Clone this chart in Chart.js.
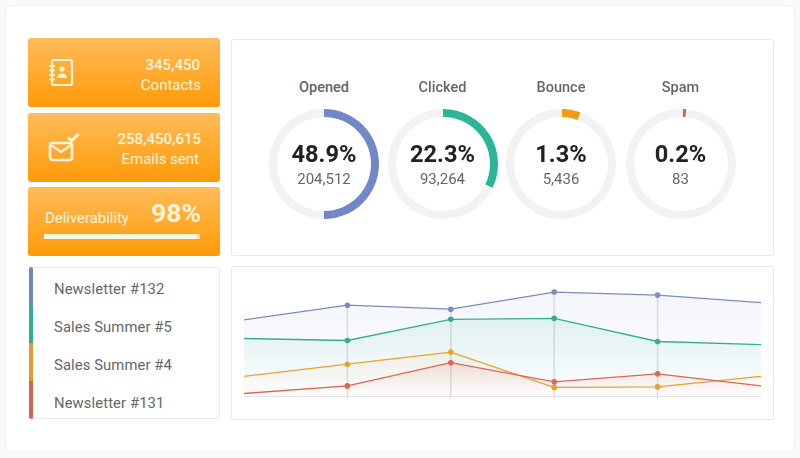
<!DOCTYPE html>
<html>
<head>
<meta charset="utf-8">
<title>Campaign dashboard</title>
<script src="https://cdn.jsdelivr.net/npm/chart.js@4/dist/chart.umd.min.js"></script>
<style>
html,body{margin:0;padding:0;background:#fafafa;overflow:hidden}
body{width:800px;height:458px;position:relative;font-family:Roboto,sans-serif}
.abs,canvas{position:absolute}
.page{left:5px;top:5px;width:788px;height:445px;background:#fff;border:1px solid #f3f3f3;border-radius:6px}
.stat{left:28px;width:192px;height:69px;border-radius:3px;background:linear-gradient(#ffbc58,#ff9a08)}
.panel{background:#fff;border:1px solid #e9e9e9;border-radius:3px;box-sizing:border-box}
.t{position:absolute;white-space:nowrap;line-height:20px;height:20px}
.light{color:#fff3dc}
.title{font-size:14.5px;font-weight:500;color:#666;width:110px;text-align:center}
.pct{font-size:23.6px;font-weight:700;color:#222;width:110px;text-align:center;line-height:28px;height:28px}
.count{font-size:15px;color:#666;width:110px;text-align:center}
.row{font-size:14.8px;color:#666;left:54px;letter-spacing:.1px}
.strip{left:29px;width:4px}
</style>
</head>
<body>
<div class="abs page"></div>
<div class="abs stat" style="top:38px"></div>
<div class="abs stat" style="top:113px"></div>
<div class="abs stat" style="top:187px"></div>
<div class="abs panel" style="left:231px;top:39px;width:543px;height:217px"></div>
<div class="abs panel" style="left:29px;top:267px;width:191px;height:152px"></div>
<div class="abs panel" style="left:231px;top:266px;width:543px;height:154px"></div>

<svg class="abs" style="left:48px;top:58px" width="27" height="30" viewBox="0 0 27 30" fill="none" stroke="#fff3dc" stroke-width="2.2" stroke-linecap="round" stroke-linejoin="round">
  <rect x="4" y="2" width="20" height="25" rx="2"/>
  <path d="M2 8h4M2 12.5h4M2 17h4M2 21.500h4"/>
  <circle cx="14" cy="11" r="2.600" fill="#fff3dc" stroke="none"/>
  <path d="M9 20c0-6 10-6 10 0z" fill="#fff3dc" stroke="none"/>
</svg>
<svg class="abs" style="left:48px;top:130px" width="34" height="34" viewBox="0 0 34 34" fill="none" stroke="#fff3dc" stroke-linejoin="round">
  <rect x="2" y="13" width="22" height="17" rx="2.500" stroke-width="2.600"/>
  <path d="M3 15l10 7 10-7" stroke-width="2.400"/>
  <path d="M20 7.500l3.500 3.500 7-7" stroke-width="3"/>
</svg>

<div class="t light" style="right:600px;top:55px;font-size:15px;font-weight:500">345,450</div>
<div class="t light" style="right:599px;top:75px;font-size:15px">Contacts</div>
<div class="t light" style="right:599px;top:129px;font-size:15px;font-weight:500">258,450,615</div>
<div class="t light" style="right:601px;top:149px;font-size:15px">Emails sent</div>
<div class="t light" style="left:45px;top:208px;font-size:14.900px">Deliverability</div>
<div class="t light" style="right:599px;top:203px;font-size:26.500px;font-weight:700">98%</div>
<canvas id="deliver" width="156" height="5" style="left:44px;top:234px;width:156px;height:5px"></canvas>

<div id="rings"></div>
<div id="rows"></div>
<canvas id="lines" width="517" height="114" style="left:244px;top:285px;width:517px;height:114px"></canvas>

<script>
// ring panel
const ringNames = ['Opened', 'Clicked', 'Bounce', 'Spam'];
const ringPercents = ['48.9%', '22.3%', '1.3%', '0.2%'];
const ringCounts = ['204,512', '93,264', '5,436', '83'];
// arc length as drawn in the picture, in % of the circle (not the same as the printed percents)
const ringArcs = [50, 32.2, 5.5, 1];
const ringStarts = [0, 0, 1, 2];
const ringColors = ['#7288c6', '#2bb698', '#f39c12', '#e0604f'];
const ringCentersX = [324, 442.5, 561, 680.5];

const deliverability = 98;

// campaign list
const campaigns = ['Newsletter #132', 'Sales Summer #5', 'Sales Summer #4', 'Newsletter #131'];
const campaignColors = ['#7287c0', '#2fae96', '#e39a2d', '#dd5f4e'];

// line chart, no axis labels in the picture so heights are plain units
const periods = ['p1', 'p2', 'p3', 'p4', 'p5', 'p6'];
const newsletter132 = [75.5, 90, 86, 103, 100, 92.5];
const salesSummer5 = [57, 55, 76, 77, 54, 51];
const salesSummer4 = [19.5, 31.5, 43.5, 8.5, 9, 19.5];
const newsletter131 = [2.5, 10, 33, 14, 22, 10];

Chart.defaults.animation = false;
Chart.defaults.events = [];
Chart.defaults.plugins.legend.display = false;
Chart.defaults.plugins.tooltip.enabled = false;

function addText(parent, cls, text, left, top){
  const el = document.createElement('div');
  el.className = 't ' + cls;
  el.textContent = text;
  el.style.left = left + 'px';
  el.style.top = top + 'px';
  parent.appendChild(el);
}

const ringsEl = document.getElementById('rings');
ringNames.forEach((name, i) => {
  const left = ringCentersX[i] - 55;
  const c = document.createElement('canvas');
  c.width = 110; c.height = 110;
  c.style.cssText = `left:${left}px;top:109px;width:110px;height:110px`;
  ringsEl.appendChild(c);
  new Chart(c, {
    type: 'doughnut',
    data: { labels: [name, 'rest'], datasets: [{
      data: [ringArcs[i], 100 - ringArcs[i]],
      backgroundColor: [ringColors[i], '#f2f2f2'],
      borderWidth: 0
    }]},
    options: { responsive: false, cutout: '85.5%', rotation: ringStarts[i] }
  });
  addText(ringsEl, 'title', name, left, 78);
  addText(ringsEl, 'pct', ringPercents[i], left, 140);
  addText(ringsEl, 'count', ringCounts[i], left, 169);
});

new Chart(document.getElementById('deliver'), {
  type: 'bar',
  data: { labels: ['Deliverability'], datasets: [
    { data: [deliverability], backgroundColor: '#fff6e6', barPercentage: 1, categoryPercentage: 1 },
    { data: [100 - deliverability], backgroundColor: '#ffd79a', barPercentage: 1, categoryPercentage: 1 }
  ]},
  options: {
    responsive: false, indexAxis: 'y',
    scales: { x: { display: false, stacked: true, min: 0, max: 100 }, y: { display: false, stacked: true } }
  }
});

const rowsEl = document.getElementById('rows');
campaigns.forEach((name, i) => {
  const strip = document.createElement('div');
  strip.className = 'abs strip';
  strip.style.top = (267 + i * 38) + 'px';
  strip.style.height = '38px';
  strip.style.background = campaignColors[i];
  if(i === 0) strip.style.borderRadius = '2px 2px 0 0';
  if(i === 3) strip.style.borderRadius = '0 0 2px 2px';
  rowsEl.appendChild(strip);
  addText(rowsEl, 'row', name, 54, 278.500 + i * 38);
});

// fade from series top down to the axis
function fade(top, bottom){
  return ctx => {
    const area = ctx.chart.chartArea;
    if(!area) return top;
    const y = ctx.chart.scales.y.getPixelForValue(Math.max(...ctx.dataset.data));
    const g = ctx.chart.ctx.createLinearGradient(0, y, 0, area.bottom);
    g.addColorStop(0, top);
    g.addColorStop(1, bottom);
    return g;
  };
}

function lineSet(label, data, color, top, bottom, order){
  return {
    type: 'line', label, data, order,
    borderColor: color, borderWidth: 1.3, tension: 0,
    fill: 'origin', backgroundColor: fade(top, bottom),
    pointBackgroundColor: color, pointBorderWidth: 0,
    pointRadius: ctx => (ctx.dataIndex === 0 || ctx.dataIndex === periods.length - 1) ? 0 : 2.8,
    clip: false
  };
}

new Chart(document.getElementById('lines'), {
  data: { labels: periods, datasets: [
    // drop lines from the top series down to the axis
    { type: 'bar', label: 'drop', data: newsletter132.map((v, i) => (i === 0 || i === periods.length - 1) ? null : v),
      backgroundColor: '#e2e2e2', barThickness: 1, order: 5 },
    lineSet(campaigns[0], newsletter132, '#7b8dbf', 'rgba(115,135,200,.08)', 'rgba(115,135,200,.01)', 4),
    lineSet(campaigns[1], salesSummer5, '#35ae94', 'rgba(40,180,150,.11)', 'rgba(40,180,150,0)', 3),
    lineSet(campaigns[2], salesSummer4, '#eba22f', 'rgba(240,150,30,.07)', 'rgba(240,150,30,0)', 2),
    lineSet(campaigns[3], newsletter131, '#df6554', 'rgba(225,90,70,.13)', 'rgba(225,90,70,0)', 1)
  ]},
  options: {
    responsive: false,
    layout: { padding: 0 },
    scales: {
      x: {
        offset: false,
        ticks: { display: false },
        border: { color: '#e3e3e3' },
        grid: {
          offset: false, drawOnChartArea: false, tickLength: 3,
          color: ctx => (ctx.index === 0 || ctx.index === periods.length - 1) ? 'rgba(0,0,0,0)' : '#d9d9d9'
        }
      },
      y: { display: false, min: 0, max: 110 }
    }
  }
});
</script>
</body>
</html>
